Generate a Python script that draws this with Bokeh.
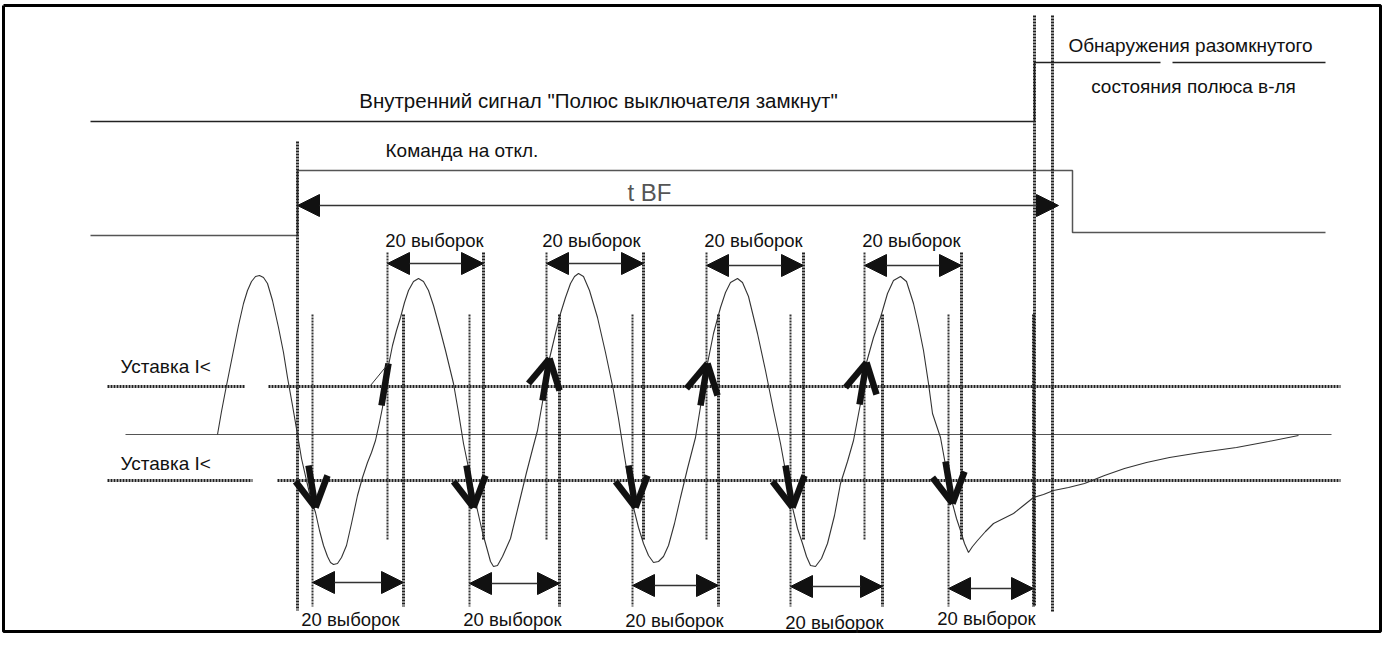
from bokeh.plotting import figure
from bokeh.models import Range1d, ColumnDataSource, Arrow, NormalHead
from bokeh.core.properties import value
from bokeh.embed import file_html
from bokeh.resources import INLINE

# ---------------- data (pixel space) ----------------
wave_pts = [
    (217, 434), (221, 411), (225, 390), (229, 370), (233, 350), (238, 325), (243, 303),
    (247, 290), (251, 281), (255, 276), (259, 275), (263, 277), (267, 283), (272, 300),
    (278, 327), (283, 352), (287, 377), (292, 405), (297, 434), (301, 458), (306, 480),
    (310, 497), (315, 512), (319, 530), (323, 545), (327, 556), (330, 562), (333, 564),
    (337, 563), (341, 557), (346, 545), (351, 523), (357, 495), (362, 477), (367, 462),
    (371, 452), (375, 440), (379, 422), (382, 407), (385, 385), (388, 365), (392, 345),
    (396, 330), (400, 317), (404, 302), (408, 290), (413, 281), (418, 278), (423, 281),
    (428, 290), (433, 305), (439, 327), (445, 350), (453, 383), (458, 412), (463, 443),
    (470, 477), (477, 510), (482, 532), (487, 550), (490, 561), (493, 566), (497, 565),
    (502, 556), (510, 538), (518, 505), (526, 472), (533, 445), (537, 430), (543, 396),
    (549, 358), (555, 333), (560, 313), (565, 297), (570, 283), (574, 276), (578, 273),
    (583, 276), (589, 290), (597, 317), (605, 352), (613, 390), (618, 418), (623, 450),
    (628, 480), (633, 507), (638, 527), (643, 543), (648, 555), (653, 562), (658, 561),
    (663, 556), (668, 545), (674, 523), (680, 497), (687, 468), (695, 437), (701, 400),
    (707, 363), (713, 333), (720, 307), (725, 292), (730, 282), (737, 278), (742, 282),
    (748, 296), (757, 333), (765, 370), (773, 410), (780, 443), (786, 476), (792, 507),
    (797, 528), (802, 543), (806, 556), (810, 565), (815, 566), (821, 558), (827, 543),
    (834, 515), (840, 483), (847, 461), (853, 440), (860, 403), (866, 362), (873, 337),
    (880, 317), (887, 293), (893, 280), (900, 276), (906, 281), (913, 303), (918, 325),
    (923, 350), (928, 383), (932, 413), (940, 437), (946, 470), (952, 503), (956, 518),
    (960, 530), (964, 543), (968, 552), (972, 546), (977, 540), (985, 531), (993, 523),
    (1003, 518), (1013, 513), (1023, 505), (1033, 497), (1043, 494), (1053, 490),
    (1068, 487), (1084, 483), (1104, 475), (1124, 468), (1146, 462), (1169, 457),
    (1200, 452), (1236, 447), (1268, 441), (1298, 435)]
wave_x = [pt[0] for pt in wave_pts]
wave_y = [pt[1] for pt in wave_pts]

down_tip_x = [315, 473, 635, 792, 952]
down_tip_y = [507, 507, 507, 507, 503]
up_tip_x = [388, 549, 707, 866]
up_tip_y = [363, 358, 363, 362]

top_span_start = [387, 546, 706, 864]
top_span_end = [483, 643, 803, 961]
top_span_y = [263, 263, 265, 265]
bottom_span_start = [312, 469, 632, 790, 948]
bottom_span_end = [403, 559, 718, 882, 1033]
bottom_span_y = [582, 583, 585, 586, 588]

sample_label = "20 выборок"
top_label_x = [434, 591, 753, 911]
top_label_y = [240, 240, 240, 240]
bottom_label_x = [350, 512, 674, 834, 986]
bottom_label_y = [619, 619, 620, 622, 618]

long_line_x = [297, 1034, 1052]
long_line_top = [141, 15, 15]
long_line_bottom = [610, 606, 612]

threshold_up_y = 386
threshold_low_y = 480
zero_y = 434

pole_x = [90, 1034, 1034, 1160]
pole_y = [121, 121, 62, 62]
pole2_x = [1172, 1325]
pole2_y = [62, 62]
cmd_x = [90, 297, 297, 1072, 1072, 1325]
cmd_y = [235, 235, 170, 170, 232, 232]
tbf_x = [297, 1058]
tbf_y = 205

title_text = 'Внутренний сигнал "Полюс выключателя замкнут"'
texts = ["Команда на откл.", "Обнаружения разомкнутого", "состояния полюса в-ля"]
texts_x = [385, 1190, 1193]
texts_y = [150, 45, 86]
texts_align = ["left", "center", "center"]

setpoint_label = "Уставка I<"
setpoint_x = [120, 120]
setpoint_y = [366, 463]

# ---------------- figure ----------------
W, H = 1383, 634
p = figure(width=W, height=H, output_backend="svg", toolbar_location=None,
           x_range=Range1d(0, W), y_range=Range1d(H, 0), min_border=0)
p.axis.visible = False
p.grid.visible = False
p.outline_line_color = None
p.background_fill_color = "white"

FONT = value("Liberation Sans")
DOT = dict(line_color="#222222", line_width=3, line_dash="2 1")
THIN_DOT = dict(line_color="#333333", line_width=2, line_dash="2 1")

# outer frame
p.line([3, W - 3, W - 3, 3, 3], [5, 5, H - 3, H - 3, 5], line_color="black", line_width=3)

# signals
p.line(pole_x, pole_y, line_color="#222222", line_width=1.3)
p.line(pole2_x, pole2_y, line_color="#222222", line_width=1.3)
p.line(cmd_x, cmd_y, line_color="#555555", line_width=1.5)

# thresholds and zero line
p.line([107, 245], [threshold_up_y] * 2, **DOT)
p.line([268, 1340], [threshold_up_y] * 2, **DOT)
p.line([107, 252], [threshold_low_y] * 2, **DOT)
p.line([277, 1340], [threshold_low_y] * 2, **DOT)
p.line([125, 1331], [zero_y] * 2, line_color="#555555", line_width=1.2)

# long vertical markers
p.segment(x0=long_line_x, y0=long_line_top, x1=long_line_x, y1=long_line_bottom, **DOT)

# vertical markers for the 20-sample windows
p.segment(x0=top_span_start, y0=[252] * 4, x1=top_span_start, y1=[540] * 4, **THIN_DOT)
p.segment(x0=top_span_end, y0=[252] * 4, x1=top_span_end, y1=[540] * 4, **DOT)
p.segment(x0=bottom_span_start, y0=[314] * 5, x1=bottom_span_start, y1=[606] * 5, **THIN_DOT)
p.segment(x0=bottom_span_end, y0=[314] * 5, x1=bottom_span_end, y1=[606] * 5, **DOT)

# waveform
p.line(wave_x, wave_y, line_color="#333333", line_width=1.1)

# thick arrows on the waveform
dxs, dys = [], []
for tx, ty in zip(down_tip_x, down_tip_y):
    dxs += [[tx - 7, tx], [tx - 20, tx], [tx + 12, tx]]
    dys += [[ty - 42, ty], [ty - 26, ty], [ty - 32, ty]]
for i, (tx, ty) in enumerate(zip(up_tip_x, up_tip_y)):
    dxs.append([tx - 7, tx])
    dys.append([ty + 42, ty])
    if i > 0:
        dxs += [[tx - 21, tx], [tx + 10, tx]]
        dys += [[ty + 25, ty], [ty + 32, ty]]
p.multi_line(dxs, dys, line_color="#111111", line_width=6.5, line_cap="butt")
p.line([up_tip_x[0] - 18, up_tip_x[0]], [up_tip_y[0] + 22, up_tip_y[0]],
       line_color="#333333", line_width=1)

# span arrows
def head():
    return NormalHead(size=22, fill_color="#111111", line_color="#111111")

span_src = ColumnDataSource(dict(
    x0=top_span_start + bottom_span_start + [tbf_x[0]],
    x1=top_span_end + bottom_span_end + [tbf_x[1]],
    y=top_span_y + bottom_span_y + [tbf_y]))
p.add_layout(Arrow(start=head(), end=head(), x_start="x0", y_start="y", x_end="x1",
                   y_end="y", source=span_src, line_color="#333333", line_width=1.3))

# texts
p.text(x=[598], y=[100], text=[title_text], text_align="center", text_baseline="middle",
       text_font=FONT, text_font_size="20.5px", text_color="#111111")
p.text(x=texts_x, y=texts_y, text=texts, text_align=texts_align, text_baseline="middle",
       text_font=FONT, text_font_size="19px", text_color="#111111")
p.text(x=[649], y=[192], text=["t BF"], text_align="center", text_baseline="middle",
       text_font=FONT, text_font_size="24px", text_color="#555555")
p.text(x=top_label_x + bottom_label_x, y=top_label_y + bottom_label_y,
       text=[sample_label] * 9, text_align="center", text_baseline="middle",
       text_font=FONT, text_font_size="18.5px", text_color="#111111")
p.text(x=setpoint_x, y=setpoint_y, text=[setpoint_label] * 2, text_align="left",
       text_baseline="middle", text_font=FONT, text_font_size="19px", text_color="#111111")

open("out.html", "w").write(file_html(p, INLINE))
